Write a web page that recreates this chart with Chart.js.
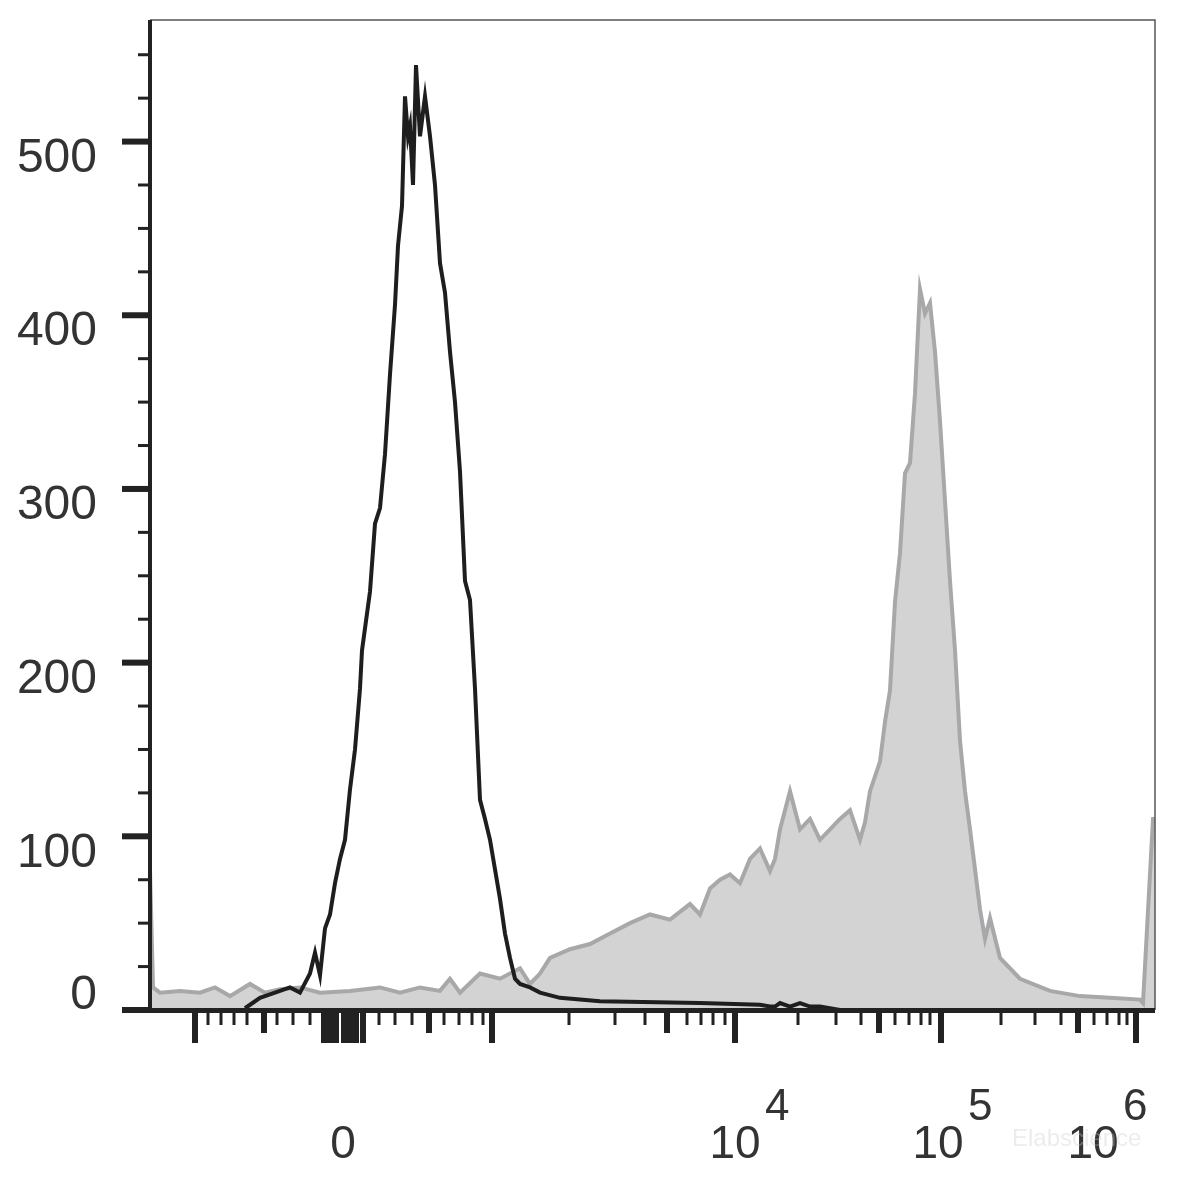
<!DOCTYPE html>
<html><head><meta charset="utf-8">
<script src="https://cdn.jsdelivr.net/npm/chart.js@4/dist/chart.umd.min.js"></script>
<style>html,body{margin:0;padding:0;background:#fff}#wrap{width:1200px;height:1179px}</style>
</head><body><div id="wrap"><canvas id="c" width="1200" height="1179"></canvas></div>
<script>
// x in channel units (0..1005), y in counts
const blackX=[95,110,125,140,150,160,165,170,175,180,185,190,195,200,205,210,212,220,225,230,235,240,245,248,252,255,258,260,263,266,270,275,280,285,290,295,300,305,310,315,320,325,330,335,340,345,350,355,360,365,370,380,390,410,450,550,610,620,625,630,640,650,660,670,690];
const blackY=[1,7,10,13,10,21,33,20,47,55,73,87,98,127,150,185,207,241,280,289,320,366,406,440,463,526,503,509,475,544,503,526,503,475,430,413,379,350,310,247,236,185,121,110,98,81,64,44,30,18,15,13,10,7,5,4,3,2,2,4,2,4,2,2,0];
const greyX=[0,3,10,30,50,65,80,100,115,130,150,170,200,230,250,270,290,300,310,330,350,370,380,390,400,420,440,460,480,500,520,540,550,560,570,580,590,600,610,620,625,630,640,650,660,670,680,690,700,710,715,720,730,735,740,745,750,755,760,765,770,775,780,785,790,795,800,805,810,815,820,825,830,835,840,850,870,900,930,960,990,993,1003,1005];
const greyY=[81,13,10,11,10,13,8,15,10,12,13,10,11,13,10,13,11,18,10,21,18,24,15,21,30,35,38,44,50,55,52,61,55,70,75,78,73,87,93,80,87,104,126,104,110,98,104,110,115,98,108,126,143,166,184,235,263,309,315,355,415,401,407,379,339,293,247,207,155,126,104,81,58,41,53,30,18,11,8,7,6,4,110,110];
const yMajor=[0,100,200,300,400,500];
const yMinor=[25,50,75,125,150,175,225,250,275,325,350,375,425,450,475,525,550];
const yLabels=['0','100','200','300','400','500'];
// x axis ticks: [position, kind] kind 3=long,2=medium,1=short
const xTicks=[[45,3],[58,1],[71,1],[84,1],[97,1],[114,2],[127,1],[143,1],[160,1],[174,3],[180,3],[186,3],[194,3],[200,3],[206,3],[213,3],[229,1],[245,1],[262,1],[279,2],[294,1],[309,1],[322,1],[333,1],[342,3],[419,1],[465,1],[495,1],[517,2],[537,1],[551,1],[563,1],[575,1],[585,3],[648,1],[686,1],[711,1],[729,2],[745,1],[759,1],[771,1],[780,1],[791,3],[851,1],[885,1],[911,1],[928,2],[944,1],[957,1],[969,1],[977,1],[986,3]];
const xLabels=[{x:193,t:'0',sup:''},{x:585,t:'10',sup:'4'},{x:788,t:'10',sup:'5'},{x:943,t:'10',sup:'6'}];

const FONT='"Liberation Sans", Arial, sans-serif';
const axesPlugin={id:'axes',afterDraw(ch){
  const c=ch.ctx,a=ch.chartArea,xs=ch.scales.x,ys=ch.scales.y;
  c.save();
  c.strokeStyle='#555';c.lineWidth=1.5;
  c.beginPath();c.moveTo(a.left,a.top);c.lineTo(a.right,a.top);c.lineTo(a.right,a.bottom);c.stroke();
  c.fillStyle='#222';
  c.fillRect(a.left-2,a.top,4,a.bottom-a.top+3);
  c.fillRect(122,a.bottom-2,a.right-122,5);
  yMajor.forEach((v,i)=>{const p=ys.getPixelForValue(v);c.fillRect(122,p-3,28,6);
    c.font='48px '+FONT;c.textAlign='right';c.textBaseline='middle';c.fillStyle='#333';
    c.fillText(yLabels[i],97,v===0?p-14:p+17);c.fillStyle='#222';});
  yMinor.forEach(v=>{const p=ys.getPixelForValue(v);c.fillRect(138,p-1.5,12,3);});
  xTicks.forEach(([v,k])=>{const p=xs.getPixelForValue(v);const L=k==3?33:k==2?23:15;const w=k==1?3:6;c.fillRect(p-w/2,a.bottom,w,L);});
  c.fillStyle='#333';c.textBaseline='alphabetic';
  xLabels.forEach(l=>{const p=xs.getPixelForValue(l.x);
    c.font='46px '+FONT;c.textAlign='center';c.fillText(l.t,p,1158);
    if(l.sup){c.font='44px '+FONT;c.textAlign='left';c.fillText(l.sup,p+30,1120);}});
  c.font='24px '+FONT;c.fillStyle='rgba(200,200,200,0.35)';c.textAlign='left';c.fillText('Elabscience',1012,1146);
  c.restore();
}};
new Chart(document.getElementById('c'),{
  type:'scatter',
  data:{datasets:[
    {data:blackX.map((x,i)=>({x,y:blackY[i]})),showLine:true,borderColor:'#1e1e1e',borderWidth:4,pointRadius:0,fill:false,tension:0,order:1},
    {data:greyX.map((x,i)=>({x,y:greyY[i]})),showLine:true,borderColor:'#a8a8aa',backgroundColor:'#d3d3d4',borderWidth:4,pointRadius:0,fill:'origin',tension:0,order:2}
  ]},
  options:{responsive:false,animation:false,
    layout:{padding:{left:150,right:45,top:20,bottom:169}},
    plugins:{legend:{display:false},tooltip:{enabled:false}},
    scales:{x:{type:'linear',min:0,max:1005,display:false},y:{min:0,max:570,display:false}}
  },
  plugins:[axesPlugin]
});
</script></body></html>
